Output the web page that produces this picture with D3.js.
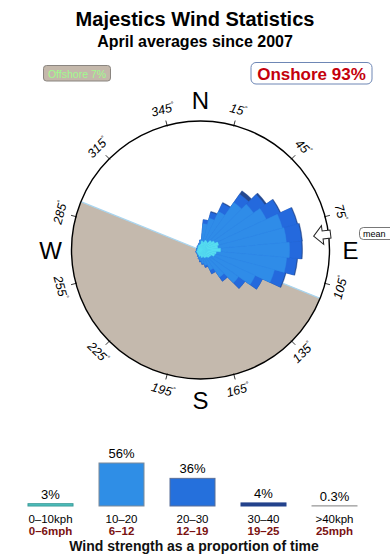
<!DOCTYPE html>
<html>
<head>
<meta charset="utf-8">
<script src="https://cdn.jsdelivr.net/npm/d3@7"></script>
<style>
  body { margin: 0; background: #fff; }
  svg { display: block; font-family: "Liberation Sans", Arial, Helvetica, sans-serif; }
</style>
</head>
<body>
<svg id="chart" width="390" height="560"></svg>
<script>
// ---- data ----
const title = 'Majestics Wind Statistics';
const subtitle = 'April averages since 2007';
const offshorePct = 7;
const onshorePct = 93;
const shoreFrom = 112;   // bearing where the offshore half begins
const shoreTo = 292;
const meanDir = 83;

// direction bins (bearing of bin centre, 10 degree bins)
const dirs = [0, 10, 20, 30, 40, 50, 60, 70, 80, 90, 100, 110, 120, 130, 140, 150, 160, 170,
              180, 190, 200, 210, 220, 230, 240, 250, 260, 270, 280, 290, 300, 310, 320, 330, 340, 350];
// % of time per direction and speed class
const spd0_10 = [0.04, 0.10, 0.08, 0.14, 0.12, 0.22, 0.30, 0.42, 0.36, 0.48, 0.30, 0.26, 0.16, 0.14, 0.10, 0.09, 0.06, 0.07,
                 0.04, 0.05, 0.03, 0.03, 0.02, 0.02, 0.02, 0.02, 0.01, 0.01, 0.01, 0.01, 0.01, 0.01, 0.02, 0.02, 0.03, 0.03];
const spd10_20 = [0.08, 0.74, 1.22, 2.02, 3.94, 4.80, 6.02, 8.21, 8.58, 9.05, 8.70, 6.80, 4.22, 2.45, 1.22, 0.51, 0.25, 0.15,
                  0.10, 0.05, 0.03, 0.01, 0.01, 0.01, 0.01, 0.01, 0.01, 0.01, 0.01, 0.01, 0.01, 0.01, 0.01, 0.01, 0.01, 0.03];
const spd20_30 = [0, 0.27, 0.52, 1.02, 1.53, 2.41, 2.89, 3.33, 3.40, 2.74, 2.21, 2.18, 1.24, 0.97, 0.43, 0.23, 0.08, 0.03,
                  0.03, 0, 0, 0, 0, 0, 0, 0, 0, 0, 0, 0, 0, 0, 0, 0, 0, 0];
const spd30_40 = [0, 0, 0.10, 0.13, 0.68, 0.38, 0.21, 0.24, 0.25, 0.24, 0.23, 0.21, 0, 0, 0, 0, 0, 0,
                  0, 0, 0, 0, 0, 0, 0, 0, 0, 0, 0, 0, 0, 0, 0, 0, 0, 0];

const tickAngles = [15, 45, 75, 105, 135, 165, 195, 225, 255, 285, 315, 345];
const cardinals = ['N', 'E', 'S', 'W'];

// speed bars
const speedKph = ['0\u201310kph', '10\u201320', '20\u201330', '30\u201340', '>40kph'];
const speedMph = ['0\u20136mph', '6\u201312', '12\u201319', '19\u201325', '25mph'];
const speedPct = [3, 56, 36, 4, 0.3];
const speedLabels = ['3%', '56%', '36%', '4%', '0.3%'];
const speedColors = ['#4fc3c0', '#2f8ee6', '#2570dc', '#23438c', '#aaaaaa'];
const speedStroke = ['#3a9a98', '#7d8a99', '#5a6f99', '#23438c', '#999999'];

// ---- setup ----
const svg = d3.select('#chart');
const cx = 200.5, cy = 250, R = 129;
const rad = Math.PI / 180;

svg.append('text')
  .attr('x', 195).attr('y', 26)
  .attr('text-anchor', 'middle')
  .attr('font-size', 20).attr('font-weight', 'bold')
  .text(title);

svg.append('text')
  .attr('x', 195).attr('y', 47)
  .attr('text-anchor', 'middle')
  .attr('font-size', 16).attr('font-weight', 'bold')
  .text(subtitle);

// offshore / onshore boxes
svg.append('rect')
  .attr('x', 43.5).attr('y', 65.5).attr('width', 67).attr('height', 15.5).attr('rx', 3)
  .attr('fill', '#c4b8ab').attr('stroke', '#8a8580');
svg.append('text')
  .attr('x', 77).attr('y', 77.5).attr('text-anchor', 'middle')
  .attr('font-size', 10.5).attr('fill', '#a2fb8e')
  .text(`Offshore ${offshorePct}%`);

svg.append('rect')
  .attr('x', 251).attr('y', 62.5).attr('width', 121).attr('height', 21.5).attr('rx', 5)
  .attr('fill', '#fff').attr('stroke', '#6e87b5');
svg.append('text')
  .attr('x', 311.5).attr('y', 80).attr('text-anchor', 'middle')
  .attr('font-size', 17).attr('font-weight', 'bold').attr('fill', '#c4000c')
  .text(`Onshore ${onshorePct}%`);

// ---- compass ----
const compass = svg.append('g').attr('transform', `translate(${cx},${cy})`);

// offshore half
compass.append('path')
  .attr('d', d3.arc()({ innerRadius: 0, outerRadius: R, startAngle: shoreFrom * rad, endAngle: shoreTo * rad }))
  .attr('fill', '#c4b9ad');

compass.append('line')
  .attr('x1', R * Math.sin(shoreFrom * rad)).attr('y1', -R * Math.cos(shoreFrom * rad))
  .attr('x2', R * Math.sin(shoreTo * rad)).attr('y2', -R * Math.cos(shoreTo * rad))
  .attr('stroke', '#a9d5ef').attr('stroke-width', 1.2);

// rose
const rows = dirs.map((d, i) => ({ dir: d, a: spd0_10[i], b: spd10_20[i], c: spd20_30[i], d: spd30_40[i] }));
const stack = d3.stack().keys(['a', 'b', 'c', 'd']);
const layers = stack(rows);
const rScale = d3.scaleSqrt().domain([0, 20]).range([0, R]);
const roseColors = ['#56def0', '#2f8ce8', '#2469dd', '#24488f'];
const petal = d3.arc()
  .innerRadius(0)
  .outerRadius(d => rScale(d[1]))
  .startAngle(d => (d.data.dir - 5) * rad)
  .endAngle(d => (d.data.dir + 5) * rad);

// outermost layer first so inner ones sit on top
layers.slice().reverse().forEach(layer => {
  compass.append('g')
    .selectAll('path')
    .data(layer.filter(d => d[1] > 0))
    .join('path')
    .attr('d', petal)
    .attr('fill', roseColors[layer.index])
    .attr('stroke', roseColors[layer.index])
    .attr('stroke-width', 0.4);
});

// ring
compass.append('circle')
  .attr('r', R).attr('fill', 'none').attr('stroke', '#000').attr('stroke-width', 1.4);

// ticks + labels
compass.selectAll('.tick')
  .data(tickAngles)
  .join('line')
  .attr('x1', d => (R - 1) * Math.sin(d * rad)).attr('y1', d => -(R - 1) * Math.cos(d * rad))
  .attr('x2', d => (R + 5) * Math.sin(d * rad)).attr('y2', d => -(R + 5) * Math.cos(d * rad))
  .attr('stroke', '#000').attr('stroke-width', 0.8);

const tl = compass.selectAll('.tl')
  .data(tickAngles)
  .join('text')
  .attr('transform', d => {
    const x = 145 * Math.sin(d * rad), y = -145 * Math.cos(d * rad);
    const rot = (d > 90 && d < 270) ? d - 180 : d;
    return `translate(${x},${y}) rotate(${rot})`;
  })
  .attr('text-anchor', 'middle')
  .attr('dominant-baseline', 'central')
  .attr('font-size', 12.5)
  .attr('font-style', 'italic');
tl.append('tspan').text(d => d);
tl.append('tspan').attr('font-size', 7).attr('dy', -4).text('\u00b0');

// cardinal letters
compass.selectAll('.card')
  .data(cardinals)
  .join('text')
  .attr('x', (d, i) => 150 * Math.sin(i * 90 * rad))
  .attr('y', (d, i) => -150 * Math.cos(i * 90 * rad))
  .attr('text-anchor', 'middle')
  .attr('dominant-baseline', 'central')
  .attr('font-size', 24)
  .text(d => d);

// mean arrow
const arrowPts = [[0, -114], [9.5, -123], [4, -123], [4, -131], [-4, -131], [-4, -123], [-9.5, -123]];
compass.append('polygon')
  .attr('points', arrowPts.map(p => p.join(',')).join(' '))
  .attr('transform', `rotate(${meanDir})`)
  .attr('fill', '#fff').attr('stroke', '#222').attr('stroke-width', 1);

svg.append('rect')
  .attr('x', 359.5).attr('y', 227.5).attr('width', 36).attr('height', 12).attr('rx', 4)
  .attr('fill', '#fff').attr('stroke', '#555').attr('stroke-width', 0.8);
svg.append('text')
  .attr('x', 363).attr('y', 237).attr('font-size', 9)
  .text('mean');

// ---- speed bars ----
const xBand = d3.scaleBand()
  .domain(speedKph)
  .range([15, 370])
  .paddingInner(0.366)
  .paddingOuter(0.183);
const yBar = d3.scaleLinear().domain([0, 56]).range([506, 463]);

const bars = svg.append('g');
bars.selectAll('rect')
  .data(speedPct)
  .join('rect')
  .attr('x', (d, i) => xBand(speedKph[i]))
  .attr('y', d => yBar(d))
  .attr('width', xBand.bandwidth())
  .attr('height', d => yBar(0) - yBar(d))
  .attr('fill', (d, i) => speedColors[i])
  .attr('stroke', (d, i) => speedStroke[i])
  .attr('stroke-width', 1);

bars.selectAll('.pct')
  .data(speedPct)
  .join('text')
  .attr('x', (d, i) => xBand(speedKph[i]) + xBand.bandwidth() / 2)
  .attr('y', d => yBar(d) - 5)
  .attr('text-anchor', 'middle')
  .attr('font-size', 13)
  .text((d, i) => speedLabels[i]);

bars.selectAll('.kph')
  .data(speedKph)
  .join('text')
  .attr('x', d => xBand(d) + xBand.bandwidth() / 2)
  .attr('y', 522.5)
  .attr('text-anchor', 'middle')
  .attr('font-size', 11.5)
  .text(d => d);

bars.selectAll('.mph')
  .data(speedMph)
  .join('text')
  .attr('x', (d, i) => xBand(speedKph[i]) + xBand.bandwidth() / 2)
  .attr('y', 535)
  .attr('text-anchor', 'middle')
  .attr('font-size', 11.5)
  .attr('font-weight', 'bold')
  .attr('fill', '#7a1212')
  .text(d => d);

svg.append('text')
  .attr('x', 194).attr('y', 551)
  .attr('text-anchor', 'middle')
  .attr('font-size', 14).attr('font-weight', 'bold')
  .attr('fill', '#111')
  .text('Wind strength as a proportion of time');
</script>
</body>
</html>
